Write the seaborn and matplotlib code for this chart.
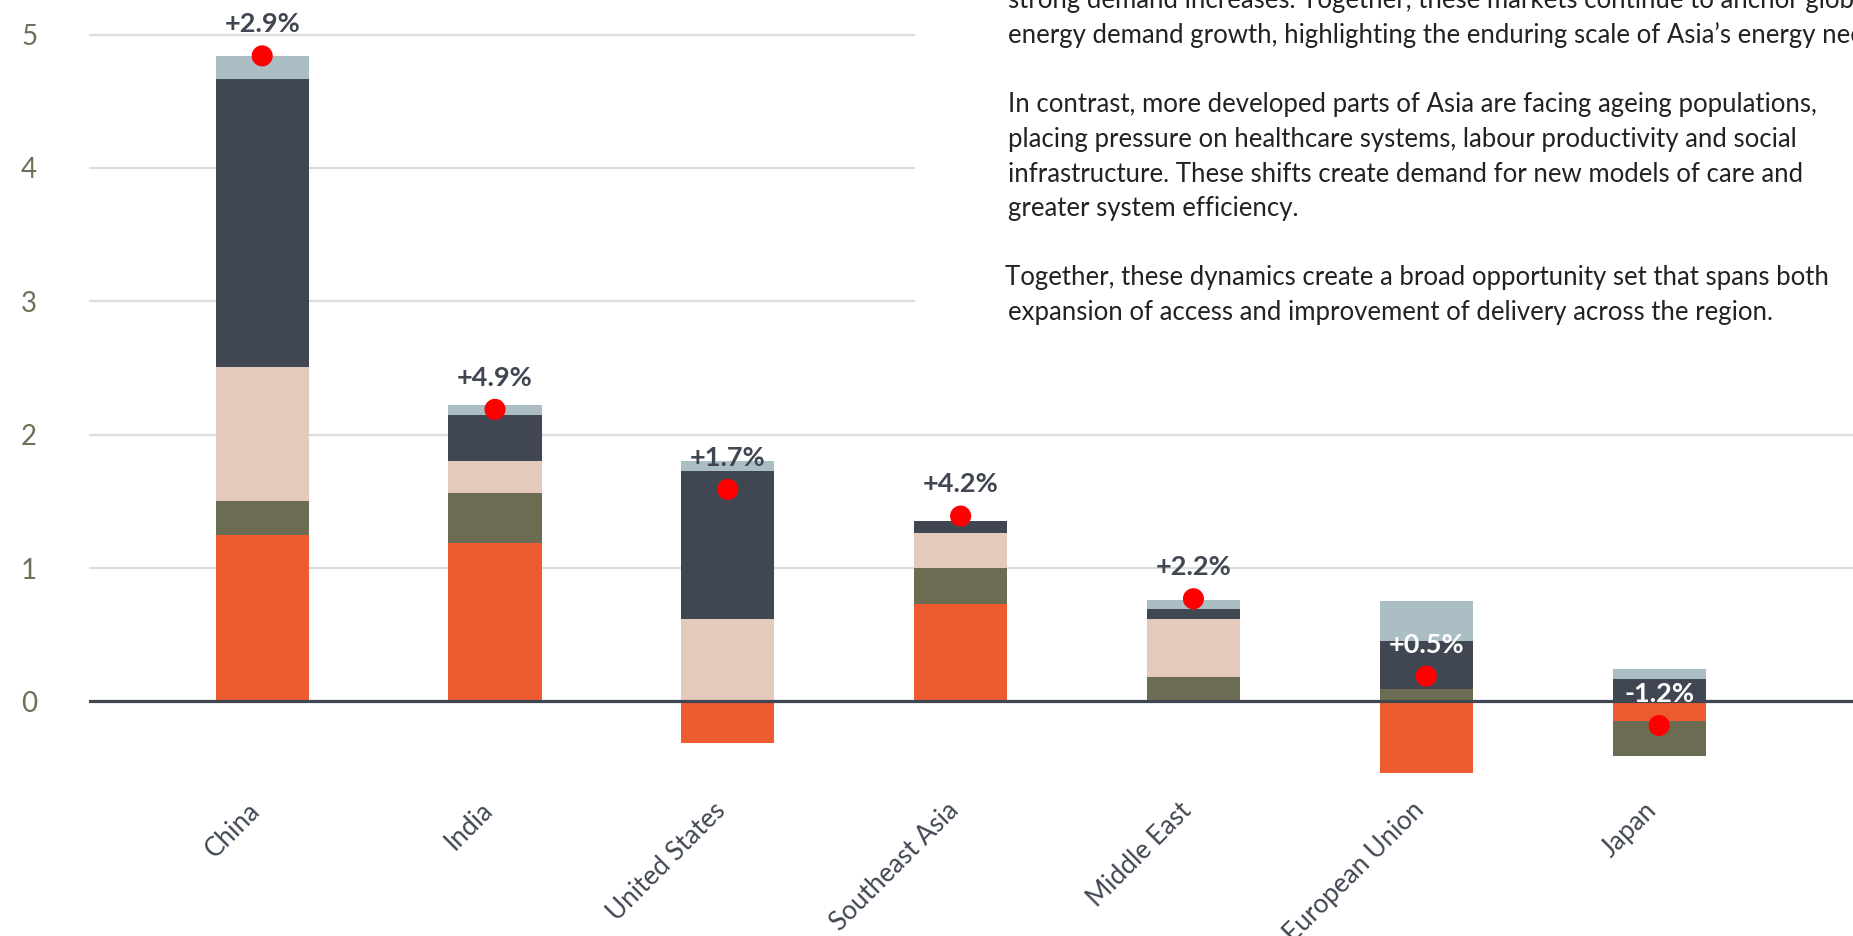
import numpy as np
import matplotlib
matplotlib.use("Agg")
import matplotlib.pyplot as plt
import matplotlib.transforms as mtransforms
import seaborn as sns
from matplotlib.patches import Rectangle

# ---------------- data ----------------
categories = ["China", "India", "United States", "Southeast Asia",
              "Middle East", "European Union", "Japan"]
series_names = ["Segment 1", "Segment 2", "Segment 3", "Segment 4", "Segment 5"]
seg1 = [1.25, 1.19, -0.31, 0.73, 0.00, -0.54, -0.15]   # orange
seg2 = [0.25, 0.37, 0.00, 0.27, 0.18, 0.09, -0.26]     # olive
seg3 = [1.01, 0.24, 0.62, 0.265, 0.44, 0.00, 0.00]     # beige
seg4 = [2.16, 0.35, 1.11, 0.09, 0.07, 0.36, 0.17]      # dark slate
seg5 = [0.17, 0.07, 0.07, 0.00, 0.07, 0.30, 0.07]      # light grey-blue
net_change = [4.84, 2.19, 1.59, 1.39, 0.77, 0.19, -0.18]
growth_labels = ["+2.9%", "+4.9%", "+1.7%", "+4.2%", "+2.2%", "+0.5%", "-1.2%"]
y_ticks = [0, 1, 2, 3, 4, 5]

body_lines = [
    "strong demand increases. Together, these markets continue to anchor global",
    "energy demand growth, highlighting the enduring scale of Asia\u2019s energy needs.",
    "In contrast, more developed parts of Asia are facing ageing populations,",
    "placing pressure on healthcare systems, labour productivity and social",
    "infrastructure. These shifts create demand for new models of care and",
    "greater system efficiency.",
    "Together, these dynamics create a broad opportunity set that spans both",
    "expansion of access and improvement of delivery across the region.",
]

# ---------------- style ----------------
colors = ["#EE5B2F", "#6B6C52", "#E4CABD", "#414752", "#ABBEC4"]
dark = "#414752"
tick_olive = "#6E705A"

sns.set_theme(style="white")
plt.rcParams["font.family"] = ["Lato", "DejaVu Sans"]

W, H = 1853, 936
fig = plt.figure(figsize=(W / 100, H / 100), dpi=100)
ax = fig.add_axes([88.5 / W, (H - 781.5) / H, 1 - 88.5 / W, 781.5 / H])

n = len(categories)
pos = np.arange(n)
layers = [seg1, seg2, seg3, seg4, seg5]

pos_base = np.zeros(n)
neg_base = np.zeros(n)
for vals, col in zip(layers, colors):
    v = np.asarray(vals, dtype=float)
    bottom = np.where(v >= 0, pos_base, neg_base)
    sns.barplot(x=pos, y=v, bottom=bottom, color=col, width=0.4,
                errorbar=None, native_scale=True, saturation=1,
                linewidth=0, ax=ax, zorder=2)
    pos_base += np.clip(v, 0, None)
    neg_base += np.clip(v, None, 0)

ax.axhline(0, color=dark, lw=2.3, zorder=3)

sns.scatterplot(x=pos, y=net_change, color="#FF0000", s=230,
                edgecolor="none", linewidth=0, zorder=5, ax=ax, legend=False)

for i, (lab, val) in enumerate(zip(growth_labels, net_change)):
    inside = val + 0.25 < pos_base[i]
    ax.annotate(lab, (i, val), xytext=(0, 17), textcoords="offset points",
                ha="center", va="baseline", fontsize=19.5, fontweight="bold",
                color="white" if inside else dark, zorder=6)

ax.set_xlim(-0.746, 6.833)
ax.set_ylim(-0.6, 5.259)
ax.set_yticks(y_ticks)
ax.set_yticklabels([str(t) for t in y_ticks])
ax.tick_params(axis="y", length=0, pad=37, labelsize=20, labelcolor=tick_olive)
ax.set_xticks(pos)
ax.set_xticklabels(categories, rotation=45, ha="right", va="center",
                   rotation_mode="anchor", fontsize=18.8, color=dark)
ax.tick_params(axis="x", length=0, pad=18)
shift = mtransforms.ScaledTranslation(-6 / 100, 0, fig.dpi_scale_trans)
for lbl in ax.get_xticklabels():
    lbl.set_transform(lbl.get_transform() + shift)
ax.set_xlabel("")
ax.set_ylabel("")
ax.yaxis.grid(True, color="#DDDDDD", lw=1.6)
ax.xaxis.grid(False)
ax.set_axisbelow(True)
for s in ax.spines.values():
    s.set_visible(False)

# white text panel covering the right top
ax.add_patch(Rectangle((915 / W, (H - 345) / H), 1, 345 / H,
                       transform=fig.transFigure, facecolor="white",
                       edgecolor="none", zorder=1.5, clip_on=False))

baselines = [8, 42.7, 111.7, 146.7, 181.7, 216.2, 285, 320]
xs = [1008, 1008, 1008, 1008, 1008, 1008, 1004.5, 1008]
for line, yb, xx in zip(body_lines, baselines, xs):
    fig.text(xx / W, 1 - yb / H, line, ha="left", va="baseline",
             fontsize=18.5, color="#222222")

fig.savefig("out.png", dpi=100, facecolor="white")
